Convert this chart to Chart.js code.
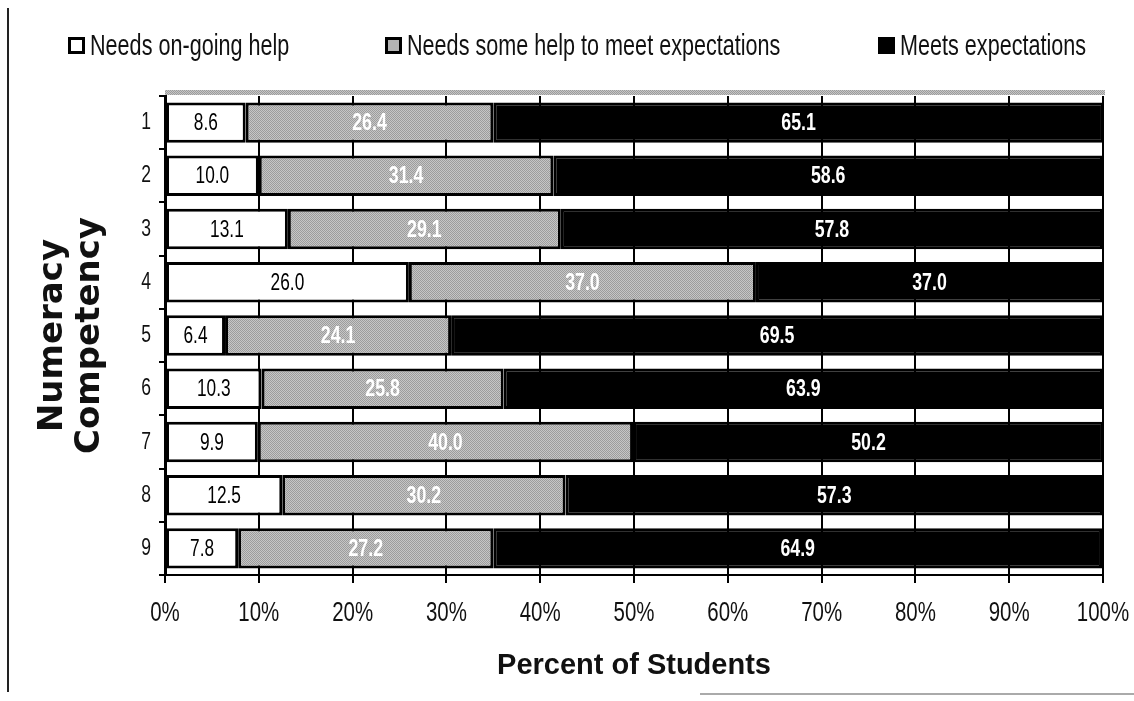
<!DOCTYPE html>
<html>
<head>
<meta charset="utf-8">
<script src="https://cdn.jsdelivr.net/npm/chart.js@4"></script>
<style>
  html, body { margin: 0; padding: 0; background: #fff; }
  .wrap { position: relative; width: 1134px; height: 701px; overflow: hidden; }
  .wrap canvas { position: absolute; left: 0; top: 0; }
  .scanline { position: absolute; left: 7px; top: 8px; width: 2px; height: 684px; background: #222; }
  .edge { position: absolute; left: 700px; top: 693px; width: 434px; height: 2px; background: #aaa; }
  .legend__item { position: absolute; top: 28px; display: flex; align-items: center; }
  .legend__box { width: 11px; height: 11px; border: 3px solid #000; margin-right: 5px; }
  .legend__text { display: inline-block; font-family: "Liberation Sans", Arial, sans-serif;
    font-size: 30px; color: #111; white-space: nowrap; transform: scaleX(0.72); transform-origin: 0 50%; }
</style>
</head>
<body>
<div class="wrap">
  <div class="scanline"></div>
  <div class="edge"></div>
  <canvas id="chart" width="1134" height="701"></canvas>
  <div class="legend__item" style="left:68px"><span class="legend__box" style="background:#fff"></span><span class="legend__text">Needs on-going help</span></div>
  <div class="legend__item" style="left:385px"><span class="legend__box" style="background:#b4b4b4"></span><span class="legend__text">Needs some help to meet expectations</span></div>
  <div class="legend__item" style="left:878px"><span class="legend__box" style="background:#000"></span><span class="legend__text">Meets expectations</span></div>
</div>
<script>
const categories = ["1", "2", "3", "4", "5", "6", "7", "8", "9"];
const seriesNames = ["Needs on-going help", "Needs some help to meet expectations", "Meets expectations"];
const ongoingHelp = [8.6, 10.0, 13.1, 26.0, 6.4, 10.3, 9.9, 12.5, 7.8];
const someHelp = [26.4, 31.4, 29.1, 37.0, 24.1, 25.8, 40.0, 30.2, 27.2];
const meetsExpectations = [65.1, 58.6, 57.8, 37.0, 69.5, 63.9, 50.2, 57.3, 64.9];

const baseFont = '"Liberation Sans", Arial, sans-serif';

// dotted gray fill like the printed chart
function grayPattern() {
  const c = document.createElement("canvas");
  c.width = 2;
  c.height = 2;
  const g = c.getContext("2d");
  g.fillStyle = "#c6c6c6";
  g.fillRect(0, 0, 2, 2);
  g.fillStyle = "#9c9c9c";
  g.fillRect(0, 0, 1, 1);
  g.fillRect(1, 1, 1, 1);
  return g.createPattern(c, "repeat");
}
const gray = grayPattern();

// no Arial Narrow here, so squeeze Liberation Sans sideways
function narrowText(ctx, text, x, y, squeeze) {
  ctx.save();
  ctx.translate(x, y);
  ctx.scale(squeeze, 1);
  ctx.fillText(text, 0, 0);
  ctx.restore();
}

// value labels in the middle of each segment
const segmentLabels = {
  id: "segmentLabels",
  afterDatasetsDraw(chart) {
    const ctx = chart.ctx;
    ctx.save();
    ctx.textAlign = "center";
    ctx.textBaseline = "middle";
    chart.data.datasets.forEach((ds, i) => {
      const meta = chart.getDatasetMeta(i);
      ctx.fillStyle = i === 0 ? "#000" : "#fff";
      ctx.font = (i === 0 ? "" : "bold ") + "24px " + baseFont;
      meta.data.forEach((bar, j) => {
        const p = bar.getProps(["x", "y", "base"], true);
        narrowText(ctx, ds.data[j].toFixed(1), (p.x + p.base) / 2, p.y + 1, i === 0 ? 0.72 : 0.74);
      });
    });
    ctx.restore();
  }
};

// tick labels drawn narrow at the scale positions
const narrowTicks = {
  id: "narrowTicks",
  afterDraw(chart) {
    const ctx = chart.ctx;
    const xs = chart.scales.x;
    const ys = chart.scales.y;
    ctx.save();
    ctx.fillStyle = "#111";
    ctx.textBaseline = "middle";
    ctx.textAlign = "center";
    ctx.font = "28px " + baseFont;
    xs.ticks.forEach(t => narrowText(ctx, t.value + "%", xs.getPixelForValue(t.value), xs.top + 38, 0.73));
    ctx.textAlign = "right";
    ctx.font = "24px " + baseFont;
    ys.ticks.forEach(t => narrowText(ctx, categories[t.value], ys.right - 14, ys.getPixelForValue(t.value), 0.73));
    ctx.restore();
  }
};

// gray band along the top of the plot
const topBand = {
  id: "topBand",
  beforeDatasetsDraw(chart) {
    const a = chart.chartArea;
    const ctx = chart.ctx;
    ctx.save();
    ctx.fillStyle = gray;
    ctx.fillRect(a.left, a.top - 6, a.right - a.left + 2, 5);
    ctx.restore();
  }
};

new Chart(document.getElementById("chart"), {
  type: "bar",
  data: {
    labels: categories,
    datasets: [
      { label: seriesNames[0], data: ongoingHelp, backgroundColor: "#fff" },
      { label: seriesNames[1], data: someHelp, backgroundColor: gray },
      { label: seriesNames[2], data: meetsExpectations, backgroundColor: "#000" }
    ].map(d => Object.assign(d, {
      borderColor: "#000",
      borderWidth: 3,
      borderSkipped: false,
      barPercentage: 0.76,
      categoryPercentage: 1
    }))
  },
  options: {
    indexAxis: "y",
    responsive: false,
    animation: false,
    layout: { padding: { top: 96, right: 31, left: 30, bottom: 8 } },
    plugins: {
      legend: { display: false },
      tooltip: { enabled: false }
    },
    scales: {
      x: {
        stacked: true,
        min: 0,
        max: 100,
        ticks: { stepSize: 10, display: false },
        grid: { color: "#000", lineWidth: 2, tickLength: 8, tickColor: "#000" },
        border: { color: "#000", width: 2 },
        title: {
          display: true,
          text: "Percent of Students",
          color: "#111",
          font: { family: "Liberation Sans", size: 29, weight: "bold" },
          padding: { top: 6, bottom: 10 }
        },
        afterFit: s => { s.height = 118; }
      },
      y: {
        stacked: true,
        ticks: { display: false },
        grid: { drawOnChartArea: false, tickLength: 6, tickColor: "#000", lineWidth: 2 },
        border: { color: "#000", width: 3 },
        title: {
          display: true,
          text: ["Numeracy", "Competency"],
          color: "#111",
          font: { family: "DejaVu Sans", size: 34, weight: "bold", lineHeight: 1.1 },
          padding: { top: 4, bottom: 8 }
        },
        afterFit: s => { s.width = 135; }
      }
    }
  },
  plugins: [topBand, segmentLabels, narrowTicks]
});
</script>
</body>
</html>
